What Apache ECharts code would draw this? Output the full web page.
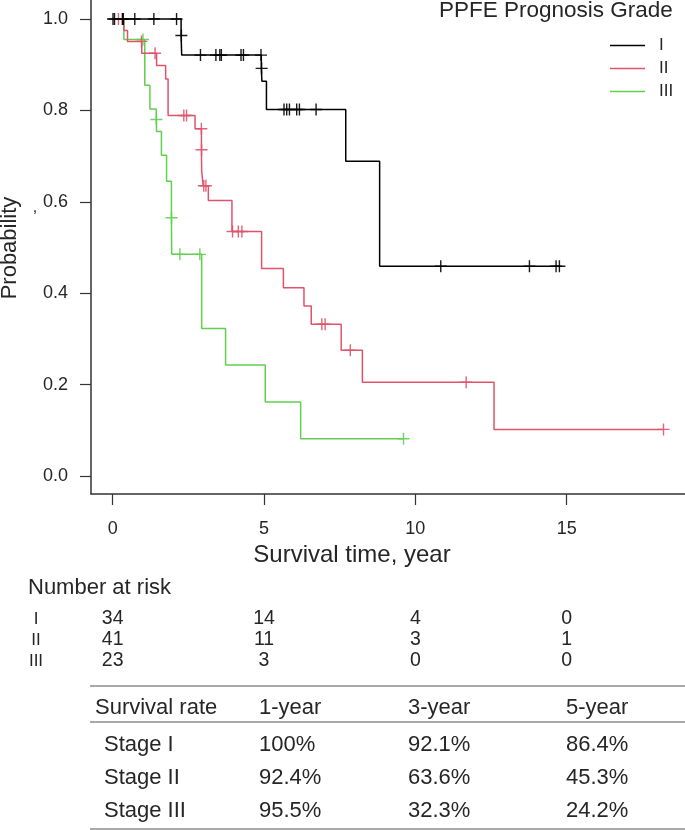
<!DOCTYPE html>
<html>
<head>
<meta charset="utf-8">
<script src="https://cdn.jsdelivr.net/npm/echarts@6/dist/echarts.min.js"></script>
<style>
html, body { margin: 0; padding: 0; background: #fff; }
#main { width: 685px; height: 830px; }
</style>
</head>
<body>
<div id="main"></div>
<script>
// groups and colours (R default palette)
const groupNames = ['I', 'II', 'III'];
const groupColors = ['#000000', '#DF536B', '#61D04F'];

// KM steps: time of each event and survival right after it
const eventTimesI = [0, 2.26, 2.28, 4.91, 4.93, 5.08, 7.70, 8.82];
const survivalI = [1, 0.964, 0.921, 0.892, 0.864, 0.802, 0.689, 0.459];
const censorTimesI = [0.01, 0.06, 0.32, 0.35, 0.73, 1.36, 2.11, 2.27, 2.90, 3.41, 3.54, 3.59,
  4.24, 4.32, 4.90, 4.92, 5.66, 5.75, 5.84, 6.08, 6.17, 6.72, 10.84, 13.77, 14.65, 14.76];

const eventTimesII = [0, 0.37, 0.49, 0.96, 1.45, 1.75, 1.83, 2.72, 2.932, 2.94, 2.99, 3.16,
  3.94, 4.92, 5.64, 6.32, 6.56, 7.55, 8.25, 12.6];
const survivalII = [1, 0.975, 0.951, 0.925, 0.898, 0.869, 0.789, 0.760, 0.714, 0.667, 0.635, 0.603,
  0.535, 0.454, 0.412, 0.372, 0.332, 0.275, 0.205, 0.102];
const censorTimesII = [0.19, 0.95, 1.40, 2.35, 2.44, 2.93, 2.936, 3.01, 3.08, 3.96, 4.15, 4.27,
  6.91, 7.02, 7.85, 11.68, 18.2];

const eventTimesIII = [0, 0.37, 1.06, 1.23, 1.44, 1.45, 1.61, 1.78, 1.94, 1.95, 2.94, 3.73, 5.04, 6.21];
const survivalIII = [1, 0.955, 0.855, 0.803, 0.780, 0.754, 0.702, 0.645, 0.565, 0.485, 0.323, 0.243, 0.162, 0.0816];
const censorTimesIII = [0.33, 1.0, 1.445, 1.945, 2.22, 2.88, 9.61];

// axis ticks
const xTicks = [0, 5, 10, 15];
const yTicks = [0, 0.2, 0.4, 0.6, 0.8, 1.0];

// number at risk table
const riskTimes = [0, 5, 10, 15];
const riskI = [34, 14, 4, 0];
const riskII = [41, 11, 3, 1];
const riskIII = [23, 3, 0, 0];

// survival rate table
const rateHeader = ['Survival rate', '1-year', '3-year', '5-year'];
const rateStages = ['Stage I', 'Stage II', 'Stage III'];
const rate1y = ['100%', '92.4%', '95.5%'];
const rate3y = ['92.1%', '63.6%', '32.3%'];
const rate5y = ['86.4%', '45.3%', '24.2%'];

const FONT = 'Liberation Sans, Arial, Helvetica, sans-serif';
const TXT = '#262626';

function survAt(times, surv, t) {
  let s = surv[0];
  for (let i = 0; i < times.length; i++) {
    if (times[i] <= t) s = surv[i];
  }
  return s;
}

function stepData(times, surv, censors) {
  const d = times.map((t, i) => [t, surv[i]]);
  const lastC = Math.max.apply(null, censors);
  if (lastC > times[times.length - 1]) d.push([lastC, survAt(times, surv, lastC)]);
  return d;
}

function censorData(times, surv, censors) {
  return censors.map(t => [t, survAt(times, surv, t)]);
}

const groups = [
  [eventTimesI, survivalI, censorTimesI],
  [eventTimesII, survivalII, censorTimesII],
  [eventTimesIII, survivalIII, censorTimesIII]
];

const crossPath = 'path://M-0.7,-6L0.7,-6L0.7,-0.7L6,-0.7L6,0.7L0.7,0.7L0.7,6L-0.7,6L-0.7,0.7L-6,0.7L-6,-0.7L-0.7,-0.7Z';

const series = [];
groups.forEach((g, i) => {
  series.push({
    name: groupNames[i],
    type: 'line',
    step: 'end',
    symbol: 'none',
    data: stepData(g[0], g[1], g[2]),
    lineStyle: { color: groupColors[i], width: 1.5 },
    itemStyle: { color: groupColors[i] },
    z: 3 - i
  });
  series.push({
    name: groupNames[i] + ' censored',
    type: 'scatter',
    symbol: crossPath,
    symbolSize: 12,
    data: censorData(g[0], g[1], g[2]),
    itemStyle: { color: groupColors[i], opacity: 0.9 },
    silent: true,
    z: 4 - i
  });
});

const chart = echarts.init(document.getElementById('main'));

chart.setOption({
  animation: false,
  backgroundColor: '#fff',
  textStyle: { fontFamily: FONT },
  grid: { left: 91, right: 0, top: 0, bottom: 336 },
  xAxis: {
    type: 'value',
    min: -0.717,
    max: 18.91,
    axisLine: { show: true, onZero: false, lineStyle: { color: '#333', width: 1.5 } },
    axisTick: { show: true, customValues: xTicks, length: 11, lineStyle: { color: '#333', width: 1.2 } },
    axisLabel: { customValues: xTicks, margin: 26, fontSize: 18, color: TXT, fontFamily: FONT },
    splitLine: { show: false }
  },
  yAxis: {
    type: 'value',
    min: -0.0394,
    max: 1.0416,
    axisLine: { show: true, onZero: false, lineStyle: { color: '#333', width: 1.5 } },
    axisTick: { show: true, customValues: yTicks, length: 11, lineStyle: { color: '#333', width: 1.2 } },
    axisLabel: {
      customValues: yTicks, margin: 23, fontSize: 18, color: TXT, fontFamily: FONT,
      formatter: v => v.toFixed(1)
    },
    splitLine: { show: false }
  },
  legend: {
    data: groupNames,
    orient: 'vertical',
    left: 610,
    top: 37,
    padding: 0,
    icon: 'rect',
    itemWidth: 35,
    itemHeight: 1.5,
    itemGap: 6,
    selectedMode: false,
    textStyle: { fontSize: 17, lineHeight: 15, color: TXT, fontFamily: FONT, padding: [0, 0, 0, 9] }
  },
  series: series
});

// texts and tables, positioned with the axis scale where it applies
const px = t => chart.convertToPixel({ xAxisIndex: 0 }, t);
const graphics = [];
function txt(text, x, y, size, align, extra) {
  graphics.push(Object.assign({
    type: 'text', x: x, y: y, silent: true,
    style: { text: text, fill: TXT, fontSize: size, fontFamily: FONT, align: align || 'left', verticalAlign: 'middle' }
  }, extra || {}));
}
function hline(x1, x2, y, color) {
  graphics.push({ type: 'line', silent: true, shape: { x1: x1, y1: y, x2: x2, y2: y }, style: { stroke: color, lineWidth: 1.5 } });
}

txt('PPFE Prognosis Grade', 439, 11, 22.5);
txt('Survival time, year', 352, 555, 24, 'center');
txt('Probability', 10, 248, 22, 'center', { rotation: Math.PI / 2 });
txt(',', 35, 208, 16, 'center');

txt('Number at risk', 28, 588, 22);
const riskRows = [riskI, riskII, riskIII];
const riskY = [619, 640, 661];
riskRows.forEach((row, r) => {
  txt(groupNames[r], 36, riskY[r], 17, 'center');
  row.forEach((n, c) => txt(String(n), px(riskTimes[c]), riskY[r], 19.5, 'center'));
});

hline(90, 685, 686, '#8c8c8c');
hline(90, 685, 722, '#8c8c8c');
hline(90, 685, 829, '#8c8c8c');
const colX = [95, 259, 408, 566];
rateHeader.forEach((h, c) => txt(h, colX[c], 708, 22));
const rowY = [745, 778, 811];
rateStages.forEach((s, r) => {
  txt(s, 104, rowY[r], 22);
  txt(rate1y[r], colX[1], rowY[r], 22);
  txt(rate3y[r], colX[2], rowY[r], 22);
  txt(rate5y[r], colX[3], rowY[r], 22);
});

chart.setOption({ graphic: graphics });
</script>
</body>
</html>
